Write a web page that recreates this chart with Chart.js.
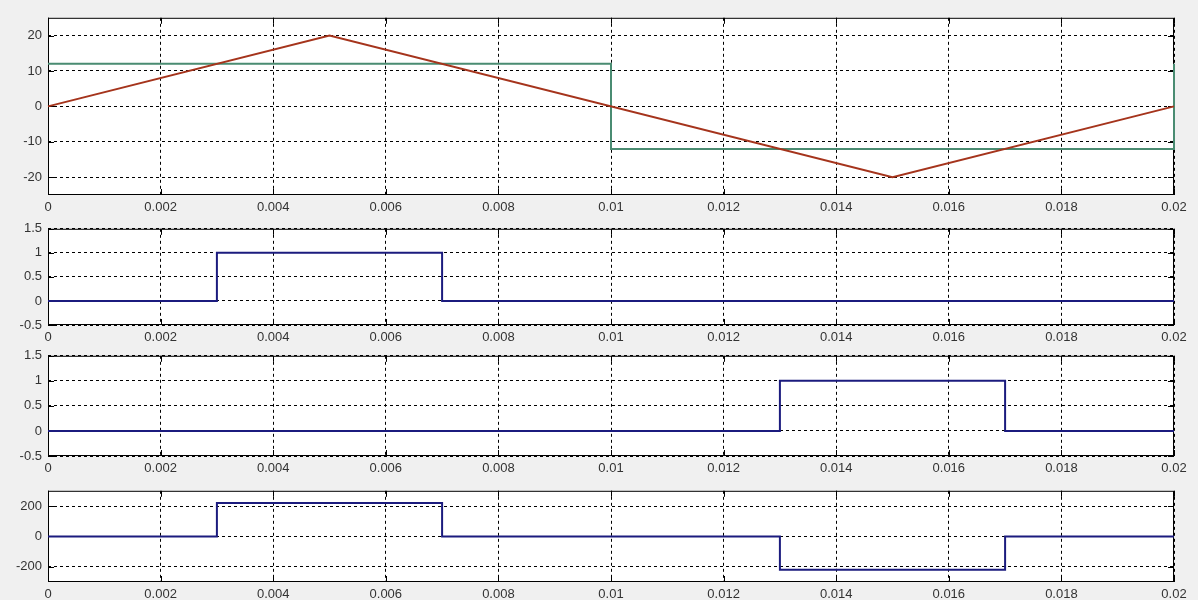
<!DOCTYPE html>
<html>
<head>
<meta charset="utf-8">
<script src="https://cdn.jsdelivr.net/npm/chart.js@4"></script>
<style>
    body { margin: 0; background: #f0f0f0; width: 1198px; height: 600px; overflow: hidden; position: relative; }
    canvas { position: absolute; left: 0; }
</style>
</head>
<body>
<canvas id="plot1"></canvas>
<canvas id="plot2"></canvas>
<canvas id="plot3"></canvas>
<canvas id="plot4"></canvas>
<script>
// Shared x axis (time, s)
const xTicks = [0, 0.002, 0.004, 0.006, 0.008, 0.01, 0.012, 0.014, 0.016, 0.018, 0.02];

// Plot 1: triangle carrier and square reference
const triTime = [0, 0.005, 0.015, 0.02];
const triValues = [0, 20, -20, 0];
const squareTime = [0, 0.01, 0.01, 0.02, 0.02];
const squareValues = [12, 12, -12, -12, 12];
const yTicks1 = [-20, -10, 0, 10, 20];

// Plot 2: first gate pulse
const pulseATime = [0, 0.003, 0.003, 0.007, 0.007, 0.02];
const pulseAValues = [0, 0, 1, 1, 0, 0];
const yTicks2 = [-0.5, 0, 0.5, 1, 1.5];

// Plot 3: second gate pulse
const pulseBTime = [0, 0.013, 0.013, 0.017, 0.017, 0.02];
const pulseBValues = [0, 0, 1, 1, 0, 0];
const yTicks3 = [-0.5, 0, 0.5, 1, 1.5];

// Plot 4: output voltage
const outTime = [0, 0.003, 0.003, 0.007, 0.007, 0.013, 0.013, 0.017, 0.017, 0.02];
const outValues = [0, 0, 220, 220, 0, 0, -220, -220, 0, 0];
const yTicks4 = [-200, 0, 200];

const PAGE_W = 1198;
const PLOT_LEFT = 48;
const PLOT_RIGHT = 1174;
const PAD_TOP = 10;
const X_AXIS_H = 20;

// White plot area, black box and inward tick marks (matlab style)
const plotFrame = {
    id: 'plotFrame',
    beforeDraw(chart) {
        const { ctx, chartArea: a } = chart;
        ctx.save();
        ctx.fillStyle = '#ffffff';
        ctx.fillRect(a.left, a.top, a.width, a.height);
        ctx.restore();
    },
    beforeDatasetsDraw(chart) {
        const { ctx, chartArea: a, scales } = chart;
        ctx.save();
        ctx.strokeStyle = '#000';
        ctx.lineWidth = 1;
        ctx.setLineDash([]);
        ctx.strokeRect(a.left + 0.5, a.top + 0.5, a.width - 1, a.height - 1);
        ctx.beginPath();
        scales.x.ticks.forEach(t => {
            const px = Math.round(scales.x.getPixelForValue(t.value)) + 0.5;
            ctx.moveTo(px, a.bottom); ctx.lineTo(px, a.bottom - 6);
            ctx.moveTo(px, a.top); ctx.lineTo(px, a.top + 6);
        });
        scales.y.ticks.forEach(t => {
            const py = Math.round(scales.y.getPixelForValue(t.value)) + 0.5;
            ctx.moveTo(a.left, py); ctx.lineTo(a.left + 6, py);
            ctx.moveTo(a.right, py); ctx.lineTo(a.right - 6, py);
        });
        ctx.stroke();
        ctx.restore();
    }
};

function toPoints(xs, ys) {
    return xs.map((x, i) => ({ x: x, y: ys[i] }));
}

function makePlot(id, top, bottom, datasets, yMin, yMax, yTicks) {
    const canvas = document.getElementById(id);
    const h = (bottom - top) + PAD_TOP + X_AXIS_H;
    canvas.width = PAGE_W;
    canvas.height = h;
    canvas.style.top = (top - PAD_TOP) + 'px';
    canvas.style.width = PAGE_W + 'px';
    canvas.style.height = h + 'px';

    const tickFont = { family: '"Liberation Sans", Arial, sans-serif', size: 13 };

    return new Chart(canvas, {
        type: 'line',
        data: { datasets: datasets },
        plugins: [plotFrame],
        options: {
            responsive: false,
            animation: false,
            events: [],
            layout: { padding: { top: PAD_TOP, right: PAGE_W - PLOT_RIGHT, left: 0, bottom: 0 } },
            plugins: { legend: { display: false }, tooltip: { enabled: false } },
            elements: { point: { radius: 0 }, line: { tension: 0 } },
            scales: {
                x: {
                    type: 'linear',
                    min: 0,
                    max: 0.02,
                    afterBuildTicks: s => { s.ticks = xTicks.map(v => ({ value: v })); },
                    afterFit: s => { s.height = X_AXIS_H; },
                    grid: { color: '#000', lineWidth: 1, drawTicks: false },
                    border: { display: false, dash: [3, 3] },
                    ticks: {
                        color: '#333',
                        font: tickFont,
                        padding: 5,
                        maxRotation: 0,
                        autoSkip: false,
                        callback: v => String(Number(v.toFixed(3)))
                    }
                },
                y: {
                    min: yMin,
                    max: yMax,
                    afterBuildTicks: s => { s.ticks = yTicks.map(v => ({ value: v })); },
                    afterFit: s => { s.width = PLOT_LEFT; },
                    grid: { color: '#000', lineWidth: 1, drawTicks: false },
                    border: { display: false, dash: [3, 3] },
                    ticks: {
                        color: '#333',
                        font: tickFont,
                        padding: 6,
                        autoSkip: false,
                        callback: v => String(v)
                    }
                }
            }
        }
    });
}

const navy = '#1b1b7e';

makePlot('plot1', 14, 195, [
    { data: toPoints(triTime, triValues), borderColor: '#a5341c', borderWidth: 2, clip: 3 },
    { data: toPoints(squareTime, squareValues), borderColor: '#4a8c72', borderWidth: 2, clip: 3 }
], -25, 25, yTicks1);

makePlot('plot2', 225, 325, [
    { data: toPoints(pulseATime, pulseAValues), borderColor: navy, borderWidth: 2 }
], -0.5, 1.5, yTicks2);

makePlot('plot3', 352, 456, [
    { data: toPoints(pulseBTime, pulseBValues), borderColor: navy, borderWidth: 2 }
], -0.5, 1.5, yTicks3);

makePlot('plot4', 487, 582, [
    { data: toPoints(outTime, outValues), borderColor: navy, borderWidth: 2 }
], -300, 300, yTicks4);
</script>
</body>
</html>
